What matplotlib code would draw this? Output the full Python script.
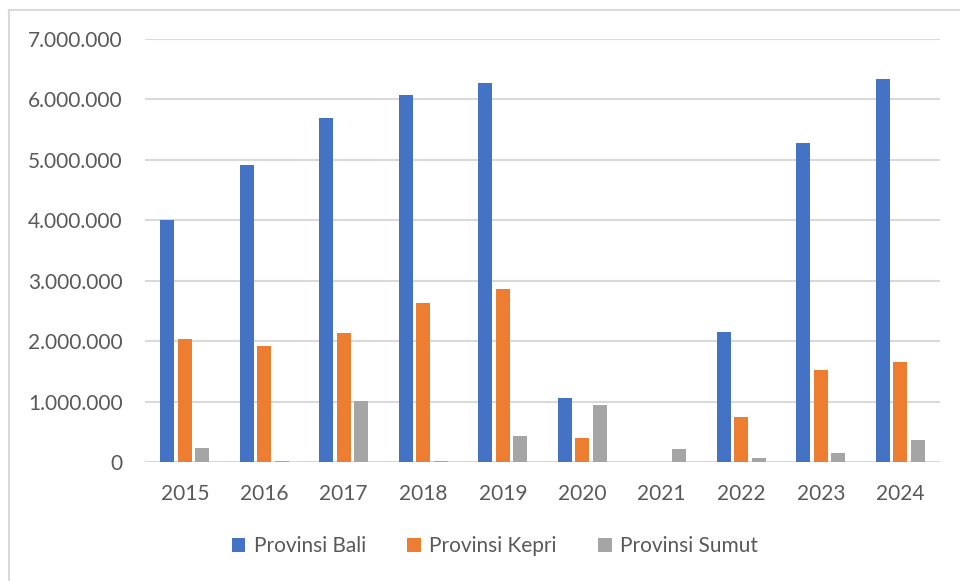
import matplotlib.pyplot as plt
import matplotlib.ticker as mticker
import numpy as np

years = ['2015', '2016', '2017', '2018', '2019', '2020', '2021', '2022', '2023', '2024']
bali = [4000000, 4920000, 5690000, 6070000, 6275000, 1065000, 51, 2155000, 5275000, 6330000]
kepri = [2030000, 1915000, 2130000, 2625000, 2865000, 400000, 0, 745000, 1525000, 1655000]
sumut = [225000, 20000, 1015000, 20000, 435000, 940000, 220000, 70000, 150000, 370000]

plt.rcParams['font.family'] = ['Lato', 'DejaVu Sans']
txt = '#595959'

fig = plt.figure(figsize=(9.6, 5.81), dpi=100)
ax = fig.add_axes([145/960, 1 - 462/581, 795/960, 423/581])

x = np.arange(len(years))
w = 0.18
step = 0.22
ax.bar(x - step, bali, w, color='#4472C4', label='Provinsi Bali', zorder=3)
ax.bar(x, kepri, w, color='#ED7D31', label='Provinsi Kepri', zorder=3)
ax.bar(x + step, sumut, w, color='#A5A5A5', label='Provinsi Sumut', zorder=3)

ax.set_xlim(-0.5, len(years) - 0.5)
ax.set_ylim(0, 7000000)
ax.set_yticks(np.arange(0, 7000001, 1000000))
ax.yaxis.set_major_formatter(mticker.FuncFormatter(lambda v, p: f'{int(v):,}'.replace(',', '.')))
ax.set_xticks(x)
ax.set_xticklabels(years)
ax.grid(axis='y', color='#d9d9d9', lw=1.5, zorder=0)
for s in ax.spines.values():
    s.set_visible(False)
ax.tick_params(axis='both', length=0, labelsize=15, colors=txt)
ax.tick_params(axis='y', pad=16)
ax.tick_params(axis='x', pad=16)

fig.legend(loc='center', bbox_to_anchor=(495/960, 1 - 546/581), ncol=3, frameon=False,
           fontsize=15, handlelength=0.65, handleheight=0.65, handletextpad=0.4,
           columnspacing=2.0, labelcolor=txt)

# chart border (top and left visible)
fig.add_artist(plt.Line2D([9/960, 1], [1 - 10/581, 1 - 10/581], color='#d9d9d9', lw=1.5,
                          transform=fig.transFigure))
fig.add_artist(plt.Line2D([9/960, 9/960], [0, 1 - 10/581], color='#d9d9d9', lw=1.5,
                          transform=fig.transFigure))

fig.savefig('out.png', dpi=100, facecolor='white')
